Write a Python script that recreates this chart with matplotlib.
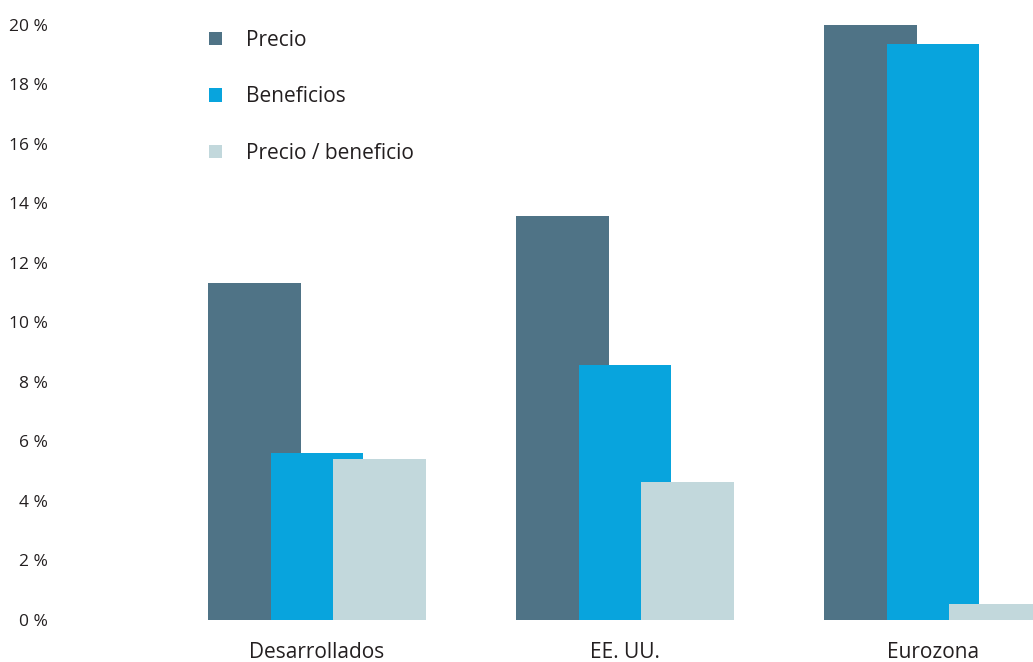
import matplotlib
matplotlib.use('Agg')
import matplotlib.pyplot as plt
import numpy as np

# data
regions = ['Desarrollados', 'EE. UU.', 'Eurozona']
precio = [11.33, 13.58, 20.0]
beneficios = [5.62, 8.56, 19.37]
precio_beneficio = [5.41, 4.64, 0.55]
series_names = ['Precio', 'Beneficios', 'Precio / beneficio']
y_ticks = [0, 2, 4, 6, 8, 10, 12, 14, 16, 18, 20]

colors = ['#4f7386', '#08a4dd', '#c2d8dc']
text_color = '#231f20'

plt.rcParams['font.family'] = ['Open Sans', 'DejaVu Sans']

fig = plt.figure(figsize=(10.33, 6.62), dpi=100)
ax = fig.add_axes([60 / 1033, 42 / 662, 973 / 1033, 0.9124])

x = np.arange(len(regions))
width = 0.30
offset = 0.203

for i, (vals, name) in enumerate(zip([precio, beneficios, precio_beneficio], series_names)):
    ax.bar(x + (i - 1) * offset, vals, width=width, color=colors[i], label=name,
           align='center', linewidth=0, zorder=2 + i)

ax.set_xlim(-0.834, 2.325)
ax.set_ylim(0, 20.3)
ax.set_yticks(y_ticks)
ax.set_yticklabels([f'{t} %' for t in y_ticks])
ax.set_xticks(x)
ax.set_xticklabels(regions)

ax.tick_params(axis='y', length=0, pad=9, labelsize=12.5, labelcolor=text_color)
ax.tick_params(axis='x', length=0, pad=16, labelsize=15, labelcolor=text_color)
for s in ax.spines.values():
    s.set_visible(False)

leg = ax.legend(loc='upper left', bbox_to_anchor=(209 / 1033, 1 - 30 / 662),
                bbox_transform=fig.transFigure, frameon=False, fontsize=15,
                handlelength=0.62, handleheight=0.62, handletextpad=1.15,
                labelspacing=1.7, borderpad=0, borderaxespad=0)
for t in leg.get_texts():
    t.set_color(text_color)

fig.savefig('out.png', dpi=100)
